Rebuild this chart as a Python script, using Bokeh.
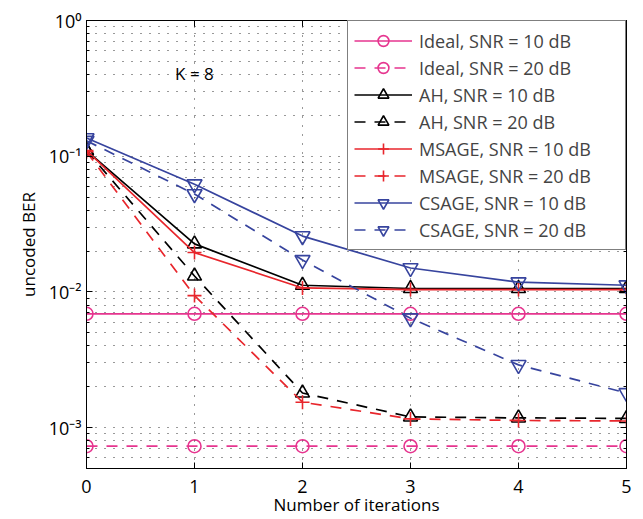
from bokeh.plotting import figure
from bokeh.models import (FixedTicker, CustomJSTickFormatter, LinearAxis, LogAxis,
                          Range1d, Label, Legend)
from bokeh.embed import file_html
from bokeh.resources import INLINE

iterations = [0, 1, 2, 3, 4, 5]

ideal_10 = [6.9e-3] * 6
ideal_20 = [7.3e-4] * 6
ah_10 = [0.110, 0.0226, 0.0112, 0.0106, 0.0106, 0.0106]
ah_20 = [0.110, 0.0131, 1.80e-3, 1.20e-3, 1.18e-3, 1.17e-3]
msage_10 = [0.110, 0.0195, 0.0107, 0.0104, 0.0104, 0.0104]
msage_20 = [0.108, 9.4e-3, 1.54e-3, 1.16e-3, 1.13e-3, 1.12e-3]
csage_10 = [0.136, 0.0622, 0.0258, 0.0150, 0.0118, 0.0112]
csage_20 = [0.130, 0.0526, 0.0172, 6.4e-3, 2.9e-3, 1.8e-3]

x_ticks = [0, 1, 2, 3, 4, 5]
y_major = [1e-3, 1e-2, 1e-1, 1e0]

FONT = "Open Sans"
PINK = "#e6358f"
BLACK = "#000000"
RED = "#e8262c"
BLUE = "#37449e"

p = figure(width=643, height=519, output_backend="svg", toolbar_location=None,
           y_axis_type="log", x_range=Range1d(0, 5), y_range=Range1d(5e-4, 1),
           min_border_left=86, min_border_right=17, min_border_top=20,
           min_border_bottom=51, x_axis_label="Number of iterations",
           y_axis_label="uncoded BER")
p.background_fill_color = "white"
p.border_fill_color = "white"
p.outline_line_color = "black"
p.outline_line_width = 1

y_minor = [m * 10.0 ** e for e in range(-4, 0) for m in range(2, 10) if 5e-4 <= m * 10.0 ** e <= 1]
yticker = FixedTicker(ticks=y_major, minor_ticks=y_minor)
xticker = FixedTicker(ticks=x_ticks)

sup_code = """
const e = Math.round(Math.log10(tick));
const sup = {'-':'\u207b','0':'\u2070','1':'\u00b9','2':'\u00b2','3':'\u00b3','4':'\u2074'};
return '10' + String(e).split('').map(c => sup[c]).join('');
"""

p.yaxis.ticker = yticker
p.yaxis.formatter = CustomJSTickFormatter(code=sup_code)
p.xaxis.ticker = xticker

for ax in [p.xaxis[0], p.yaxis[0]]:
    ax.axis_line_color = "black"
    ax.major_tick_in = 6
    ax.major_tick_out = 0
    ax.minor_tick_in = 3
    ax.minor_tick_out = 0
    ax.major_label_text_font = FONT
    ax.major_label_text_font_size = "18px"
    ax.major_label_text_color = "black"
    ax.axis_label_text_font = FONT
    ax.axis_label_text_font_size = "17px"
    ax.axis_label_text_font_style = "normal"
    ax.axis_label_text_color = "black"
p.xaxis.minor_tick_line_color = None
p.xaxis.major_label_standoff = 11
p.xaxis.axis_label_standoff = -3
p.yaxis.major_label_standoff = 5
p.yaxis.axis_label_standoff = 6

empty = CustomJSTickFormatter(code="return '';")
top = LinearAxis(ticker=xticker, formatter=empty, major_tick_in=6, major_tick_out=0,
                 minor_tick_line_color=None, major_label_standoff=0)
right = LogAxis(ticker=yticker, formatter=empty, major_tick_in=6, major_tick_out=0,
                minor_tick_in=3, minor_tick_out=0, major_label_standoff=0)
p.add_layout(top, "above")
p.add_layout(right, "right")

p.xgrid.ticker = xticker
p.ygrid.ticker = yticker
for g in [p.xgrid[0], p.ygrid[0]]:
    g.grid_line_color = "black"
    g.grid_line_dash = "1 8"
    g.grid_line_width = 1
    g.grid_line_alpha = 0.8
p.ygrid.minor_grid_line_color = "black"
p.ygrid.minor_grid_line_dash = "1 8"
p.ygrid.minor_grid_line_alpha = 0.8

DASH = "11 9"
series = [
    ("Ideal, SNR = 10 dB", ideal_10, PINK, "solid", "circle", 13),
    ("Ideal, SNR = 20 dB", ideal_20, PINK, DASH, "circle", 13),
    ("AH, SNR = 10 dB", ah_10, BLACK, "solid", "triangle", 14),
    ("AH, SNR = 20 dB", ah_20, BLACK, DASH, "triangle", 14),
    ("MSAGE, SNR = 10 dB", msage_10, RED, "solid", "cross", 14),
    ("MSAGE, SNR = 20 dB", msage_20, RED, DASH, "cross", 14),
    ("CSAGE, SNR = 10 dB", csage_10, BLUE, "solid", "inverted_triangle", 15),
    ("CSAGE, SNR = 20 dB", csage_20, BLUE, DASH, "inverted_triangle", 15),
]

items = []
for label, vals, color, dash, marker, size in series:
    r1 = p.line(iterations, vals, line_color=color, line_width=1.7, line_dash=dash)
    r2 = p.scatter(iterations, vals, marker=marker, size=size, line_color=color,
                   fill_color=None, line_width=1.6)
    items.append((label, [r1, r2]))

legend = Legend(items=items, location="top_right", margin=0, padding=6, spacing=0,
                glyph_width=58, glyph_height=27, label_height=27, label_standoff=7,
                label_width=200,
                label_text_font=FONT, label_text_font_size="18px",
                border_line_color="black", border_line_width=1,
                background_fill_color="white", background_fill_alpha=1)
p.add_layout(legend, "center")

p.add_layout(Label(x=0.82, y=0.41, text="K = 8", text_font=FONT, text_font_size="17px",
                   text_baseline="middle", text_align="left", text_color="black"))

open("out.html", "w").write(file_html(p, INLINE))
